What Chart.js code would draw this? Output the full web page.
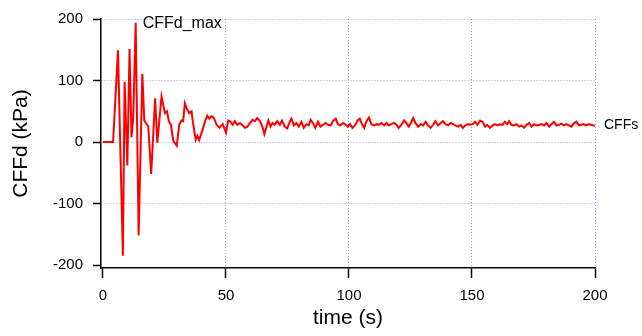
<!DOCTYPE html>
<html>
<head>
<meta charset="utf-8">
<script src="https://cdn.jsdelivr.net/npm/chart.js@4/dist/chart.umd.min.js"></script>
<style>
  html, body { margin: 0; padding: 0; background: #ffffff; }
  #wrap { width: 642px; height: 336px; position: relative; }
</style>
</head>
<body>
<div id="wrap"><canvas id="c" width="642" height="336"></canvas></div>
<script>
// ---- data ----
const timeS = [
  0, 4.1, 6.1, 8.1, 8.8, 9.9, 10.8, 11.6, 12.3, 13.3, 14.5, 16.0, 16.8, 17.6, 18.4, 19.6,
  21.2, 22.1, 23.8, 25.2, 26.0, 26.8, 27.6, 28.6, 30.0, 31.0, 31.9, 32.6, 33.3, 34.0, 35.0,
  36.0, 36.6, 37.7, 38.4, 39.1, 40.5, 41.5, 42.4, 43.2, 44.2, 45.1, 46.2, 47.3, 48.7, 50.0,
  50.9, 51.6, 52.7, 53.6, 54.6, 55.7, 56.8, 57.7, 58.7, 59.8, 60.8, 61.8, 62.7, 63.8, 64.8,
  65.6, 66.5, 67.2, 68.1, 68.9, 69.8, 70.8, 71.9, 72.8, 73.9, 74.9, 76.0, 76.6, 77.6, 78.6,
  79.6, 80.7, 81.6, 82.7, 83.6, 84.4, 85.4, 86.3, 87.4, 88.4, 89.4, 90.5, 91.5, 92.6, 93.5,
  94.6, 95.5, 96.5, 97.6, 98.4, 99.5, 100.4, 101.4, 102.4, 103.5, 104.4, 105.4, 106.2, 107.1,
  108.1, 109.1, 110.2, 111.2, 112.1, 113.2, 114.3, 115.2, 116.2, 117.2, 118.3, 119.3, 120.2,
  121.3, 122.4, 123.3, 124.3, 125.4, 126.1, 127.0, 128.1, 129.2, 130.1, 131.2, 132.1, 133.2,
  134.2, 135.1, 136.2, 137.3, 138.2, 139.2, 140.3, 141.3, 142.3, 143.2, 144.3, 145.4, 146.3,
  147.3, 148.4, 149.2, 150.3, 151.2, 152.2, 153.3, 154.3, 155.3, 156.2, 157.3, 158.4, 159.3,
  160.3, 161.3, 162.4, 163.3, 164.3, 165.1, 166.0, 167.0, 168.1, 169.2, 170.1, 171.1, 172.2,
  173.3, 174.2, 175.2, 176.3, 177.4, 178.3, 179.3, 180.3, 181.4, 182.3, 183.3, 184.3, 185.4,
  186.3, 187.3, 188.4, 189.4, 190.4, 191.3, 192.4, 193.5, 194.4, 195.3, 196.4, 197.5, 198.4,
  199.3, 200
];
const cffdKPa = [
  0, 0, 149, -185, 98, -38, 151, 8, 40, 194, -152, 111, 35, 30, 26, -52,
  71, -1, 74, 47, 50, 34, 28, 2, -6, 28, 35, 34, 63, 55, 47,
  50, 31, 4, 10, 3, 20, 34, 43, 38, 42, 39, 28, 23, 29, 15,
  35, 34, 28, 34, 28, 31, 27, 23, 25, 31, 36, 34, 39, 34, 25,
  13, 25, 35, 25, 31, 28, 34, 28, 35, 25, 22, 34, 38, 27, 31,
  25, 33, 23, 29, 27, 36, 31, 23, 33, 25, 28, 31, 28, 27, 34,
  38, 29, 27, 31, 29, 25, 29, 23, 27, 35, 38, 28, 23, 34,
  40, 29, 27, 29, 28, 31, 27, 31, 27, 29, 31, 28, 23,
  28, 35, 31, 25, 33, 39, 31, 25, 29, 27, 33, 27, 23,
  28, 34, 27, 31, 34, 29, 27, 31, 29, 27, 25, 28, 23,
  27, 29, 28, 29, 33, 28, 35, 33, 25, 28, 23, 27, 29,
  27, 29, 28, 33, 29, 34, 28, 27, 29, 25, 27, 23, 28,
  31, 25, 29, 27, 28, 29, 27, 31, 25, 29, 33, 27, 28,
  30, 27, 29, 27, 25, 30, 33, 27, 28, 29, 27, 29, 28,
  27, 27
];
const xTicks = [0, 50, 100, 150, 200];
const yTicks = [-200, -100, 0, 100, 200];
const seriesName = 'CFFs';
const peakName = 'CFFd_max';
const xTitle = 'time (s)';
const yTitle = 'CFFd (kPa)';

// ---- styles ----
const FONT = "'Liberation Sans', Arial, Helvetica, sans-serif";
const GRID = 'rgba(120,120,255,0.75)';

const points = timeS.map((t, i) => ({ x: t, y: cffdKPa[i] }));

const labelPlugin = {
  id: 'seriesLabels',
  afterDatasetsDraw(chart) {
    const meta = chart.getDatasetMeta(0);
    const pts = meta.data;
    const ctx = chart.ctx;
    let iMax = 0;
    cffdKPa.forEach((v, i) => { if (v > cffdKPa[iMax]) iMax = i; });
    const pMax = pts[iMax];
    const pEnd = pts[pts.length - 1];
    ctx.save();
    ctx.fillStyle = '#000';
    ctx.textAlign = 'left';
    ctx.textBaseline = 'middle';
    ctx.font = "16px " + FONT;
    ctx.fillText(peakName, pMax.x + 7, pMax.y + 1);
    ctx.font = "14px " + FONT;
    ctx.fillText(seriesName, pEnd.x + 9, pEnd.y);
    ctx.restore();
  }
};

new Chart(document.getElementById('c'), {
  type: 'line',
  data: {
    datasets: [{
      label: seriesName,
      data: points,
      borderColor: '#ff0000',
      borderWidth: 2,
      pointRadius: 0,
      tension: 0,
      fill: false
    }]
  },
  options: {
    responsive: false,
    animation: false,
    layout: { padding: { top: 16, right: 47, left: 0, bottom: 0 } },
    plugins: { legend: { display: false }, tooltip: { enabled: false } },
    scales: {
      x: {
        type: 'linear',
        min: -0.8,
        max: 200,
        afterFit(s) { s.height = 68; },
        afterBuildTicks(s) { s.ticks = xTicks.map(v => ({ value: v })); },
        grid: {
          color: c => (c.tick && c.tick.value === 0) ? 'rgba(0,0,0,0)' : GRID,
          lineWidth: 1,
          drawTicks: true,
          tickLength: 10,
          tickColor: '#000',
          tickWidth: 1.5,
          tickBorderDash: []
        },
        border: { display: true, color: '#000', width: 1.5, dash: [1, 2] },
        ticks: {
          color: '#000',
          font: { family: FONT, size: 15 },
          padding: 9,
          maxRotation: 0,
          autoSkip: false
        },
        title: {
          display: true,
          text: xTitle,
          color: '#000',
          font: { family: FONT, size: 21 },
          padding: { top: 0, bottom: 5 }
        }
      },
      y: {
        type: 'linear',
        min: -204.8,
        max: 200,
        afterFit(s) { s.width = 101; },
        afterBuildTicks(s) { s.ticks = yTicks.map(v => ({ value: v })); },
        grid: {
          color: c => (c.tick && c.tick.value === -200) ? 'rgba(0,0,0,0)' : GRID,
          lineWidth: 1,
          drawTicks: true,
          tickLength: 8,
          tickColor: '#000',
          tickWidth: 1.5,
          tickBorderDash: []
        },
        border: { display: true, color: '#000', width: 1.5, dash: [1, 2] },
        ticks: {
          color: '#000',
          font: { family: FONT, size: 15 },
          padding: 10,
          autoSkip: false
        },
        title: {
          display: true,
          text: yTitle,
          color: '#000',
          font: { family: FONT, size: 21 },
          padding: { top: 9, bottom: 0 }
        }
      }
    }
  },
  plugins: [labelPlugin]
});
</script>
</body>
</html>
